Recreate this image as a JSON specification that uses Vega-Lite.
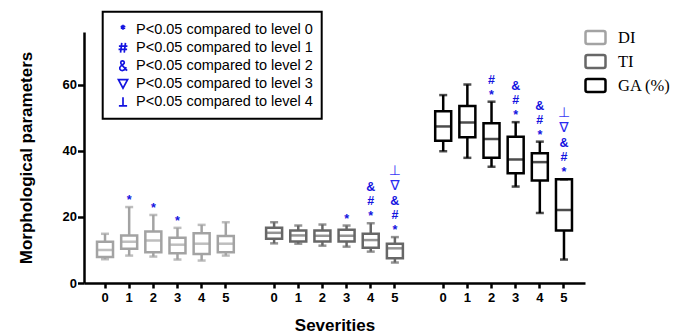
{
  "$schema": "https://vega.github.io/schema/vega-lite/v6.json",
  "width": 501,
  "height": 251,
  "autosize": "none",
  "padding": {"left": 84, "top": 32, "right": 101, "bottom": 53},
  "background": "white",
  "config": {"view": {"stroke": null}, "font": "Liberation Sans", "legend": {"strokeWidth": 2}},
  "data": {
    "values": [
      {"param": "DI", "key": "DI 0", "min": 7.2, "q1": 7.9, "med": 10.0, "q3": 12.5, "max": 14.9, "vs0": "", "vs1": "", "vs2": "", "vs3": "", "vs4": ""},
      {"param": "DI", "key": "DI 1", "min": 8.3, "q1": 10.4, "med": 12.5, "q3": 14.4, "max": 23.0, "vs0": "*", "vs1": "", "vs2": "", "vs3": "", "vs4": ""},
      {"param": "DI", "key": "DI 2", "min": 8.0, "q1": 9.3, "med": 12.9, "q3": 15.6, "max": 20.6, "vs0": "*", "vs1": "", "vs2": "", "vs3": "", "vs4": ""},
      {"param": "DI", "key": "DI 3", "min": 7.1, "q1": 9.0, "med": 11.6, "q3": 13.7, "max": 16.7, "vs0": "*", "vs1": "", "vs2": "", "vs3": "", "vs4": ""},
      {"param": "DI", "key": "DI 4", "min": 6.8, "q1": 8.8, "med": 11.9, "q3": 15.1, "max": 17.6, "vs0": "", "vs1": "", "vs2": "", "vs3": "", "vs4": ""},
      {"param": "DI", "key": "DI 5", "min": 8.3, "q1": 9.3, "med": 11.9, "q3": 14.2, "max": 18.4, "vs0": "", "vs1": "", "vs2": "", "vs3": "", "vs4": ""},
      {"param": "TI", "key": "TI 0", "min": 12.0, "q1": 13.4, "med": 15.2, "q3": 16.7, "max": 18.4, "vs0": "", "vs1": "", "vs2": "", "vs3": "", "vs4": ""},
      {"param": "TI", "key": "TI 1", "min": 11.9, "q1": 12.6, "med": 14.4, "q3": 15.9, "max": 17.4, "vs0": "", "vs1": "", "vs2": "", "vs3": "", "vs4": ""},
      {"param": "TI", "key": "TI 2", "min": 11.3, "q1": 12.6, "med": 14.3, "q3": 15.9, "max": 17.7, "vs0": "", "vs1": "", "vs2": "", "vs3": "", "vs4": ""},
      {"param": "TI", "key": "TI 3", "min": 11.0, "q1": 12.6, "med": 14.3, "q3": 16.1, "max": 17.4, "vs0": "*", "vs1": "", "vs2": "", "vs3": "", "vs4": ""},
      {"param": "TI", "key": "TI 4", "min": 9.5, "q1": 10.7, "med": 13.0, "q3": 14.9, "max": 18.1, "vs0": "*", "vs1": "#", "vs2": "&", "vs3": "", "vs4": ""},
      {"param": "TI", "key": "TI 5", "min": 6.2, "q1": 7.5, "med": 10.5, "q3": 11.9, "max": 13.9, "vs0": "*", "vs1": "#", "vs2": "&", "vs3": "∇", "vs4": "⊥"},
      {"param": "GA (%)", "key": "GA 0", "min": 39.9, "q1": 43.1, "med": 47.4, "q3": 52.0, "max": 56.9, "vs0": "", "vs1": "", "vs2": "", "vs3": "", "vs4": ""},
      {"param": "GA (%)", "key": "GA 1", "min": 37.9, "q1": 44.1, "med": 48.6, "q3": 53.6, "max": 60.1, "vs0": "", "vs1": "", "vs2": "", "vs3": "", "vs4": ""},
      {"param": "GA (%)", "key": "GA 2", "min": 35.2, "q1": 37.9, "med": 43.6, "q3": 48.4, "max": 54.9, "vs0": "*", "vs1": "#", "vs2": "", "vs3": "", "vs4": ""},
      {"param": "GA (%)", "key": "GA 3", "min": 29.2, "q1": 33.2, "med": 37.4, "q3": 44.3, "max": 48.7, "vs0": "*", "vs1": "#", "vs2": "&", "vs3": "", "vs4": ""},
      {"param": "GA (%)", "key": "GA 4", "min": 21.2, "q1": 31.0, "med": 36.6, "q3": 39.3, "max": 42.8, "vs0": "*", "vs1": "#", "vs2": "&", "vs3": "", "vs4": ""},
      {"param": "GA (%)", "key": "GA 5", "min": 7.1, "q1": 15.9, "med": 22.1, "q3": 31.4, "max": 31.4, "vs0": "*", "vs1": "#", "vs2": "&", "vs3": "∇", "vs4": "⊥"}
    ]
  },
  "layer": [
    {
      "mark": {"type": "bar", "filled": false, "strokeWidth": 2.5, "size": 16},
      "encoding": {
        "x": {
          "field": "key", "type": "nominal", "title": "Severities",
          "scale": {"domain": ["DI 0","DI 1","DI 2","DI 3","DI 4","DI 5","gap1","TI 0","TI 1","TI 2","TI 3","TI 4","TI 5","gap2","GA 0","GA 1","GA 2","GA 3","GA 4","GA 5"], "paddingInner": 0, "paddingOuter": 0.37},
          "axis": {
            "values": ["DI 0","DI 1","DI 2","DI 3","DI 4","DI 5","TI 0","TI 1","TI 2","TI 3","TI 4","TI 5","GA 0","GA 1","GA 2","GA 3","GA 4","GA 5"],
            "labelExpr": "substring(datum.value, 3)",
            "labelAngle": 0, "grid": false,
            "domainColor": "black", "domainWidth": 2.5,
            "tickColor": "black", "tickWidth": 2.5, "tickSize": 5,
            "labelFont": "Liberation Sans", "labelFontWeight": "bold", "labelFontSize": 13, "labelColor": "black", "labelPadding": 3,
            "titleFont": "Liberation Sans", "titleFontWeight": "bold", "titleFontSize": 17, "titleColor": "black", "titlePadding": 13
          }
        },
        "y": {
          "field": "q1", "type": "quantitative", "title": "Morphological parameters",
          "scale": {"domain": [0, 76], "nice": false, "zero": true},
          "axis": {
            "values": [0, 20, 40, 60], "grid": false,
            "domainColor": "black", "domainWidth": 2.5,
            "tickColor": "black", "tickWidth": 2.5, "tickSize": 6.5,
            "labelFont": "Liberation Sans", "labelFontWeight": "bold", "labelFontSize": 13, "labelColor": "black", "labelPadding": 1,
            "titleFont": "Liberation Sans", "titleFontWeight": "bold", "titleFontSize": 17, "titleColor": "black", "titlePadding": 27
          }
        },
        "y2": {"field": "q3"},
        "color": {
          "field": "param", "type": "nominal", "title": null,
          "scale": {"domain": ["DI", "TI", "GA (%)"], "range": ["#a3a3a3", "#676767", "#000000"]},
          "legend": {
            "title": null, "orient": "none", "legendX": 500, "legendY": -6, "padding": 0,
            "symbolType": "M-0.8,-0.65H0.8Q1,-0.65 1,-0.45V0.45Q1,0.65 0.8,0.65H-0.8Q-1,0.65 -1,0.45V-0.45Q-1,-0.65 -0.8,-0.65Z",
            "symbolSize": 400, "symbolStrokeWidth": 2.5, "symbolFillColor": "white", "symbolOpacity": 1,
            "labelFont": "Liberation Serif", "labelFontSize": 16.5, "labelColor": "black", "labelOffset": 11, "rowPadding": 1
          }
        }
      }
    },
    {
      "mark": {"type": "rule", "strokeWidth": 2.5},
      "encoding": {
        "x": {"field": "key", "type": "nominal", "title": "Severities"},
        "y": {"field": "q3", "type": "quantitative", "title": "Morphological parameters"},
        "y2": {"field": "max"},
        "color": {"field": "param", "type": "nominal", "title": null}
      }
    },
    {
      "mark": {"type": "rule", "strokeWidth": 2.5},
      "encoding": {
        "x": {"field": "key", "type": "nominal", "title": "Severities"},
        "y": {"field": "min", "type": "quantitative", "title": "Morphological parameters"},
        "y2": {"field": "q1"},
        "color": {"field": "param", "type": "nominal", "title": null}
      }
    },
    {
      "mark": {"type": "tick", "filled": false, "thickness": 0.5, "strokeWidth": 2, "size": 15},
      "encoding": {
        "x": {"field": "key", "type": "nominal", "title": "Severities"},
        "y": {"field": "med", "type": "quantitative", "title": "Morphological parameters"},
        "color": {"field": "param", "type": "nominal", "title": null}
      }
    },
    {
      "mark": {"type": "tick", "filled": false, "thickness": 0.5, "strokeWidth": 2, "size": 6},
      "encoding": {
        "x": {"field": "key", "type": "nominal", "title": "Severities"},
        "y": {"field": "max", "type": "quantitative", "title": "Morphological parameters"},
        "color": {"field": "param", "type": "nominal", "title": null}
      }
    },
    {
      "mark": {"type": "tick", "filled": false, "thickness": 0.5, "strokeWidth": 2, "size": 6},
      "encoding": {
        "x": {"field": "key", "type": "nominal", "title": "Severities"},
        "y": {"field": "min", "type": "quantitative", "title": "Morphological parameters"},
        "color": {"field": "param", "type": "nominal", "title": null}
      }
    },
    {
      "mark": {"type": "text", "baseline": "bottom", "align": "center", "fontSize": 12.5, "fontWeight": "bold", "font": "Liberation Sans", "color": "#1414e0", "dy": 0},
      "encoding": {
        "x": {"field": "key", "type": "nominal", "title": "Severities"},
        "y": {"field": "max", "type": "quantitative", "title": "Morphological parameters"},
        "text": {"field": "vs0"}
      }
    },
    {
      "mark": {"type": "text", "baseline": "bottom", "align": "center", "fontSize": 12.5, "fontWeight": "bold", "font": "Liberation Sans", "color": "#1414e0", "dy": -15},
      "encoding": {
        "x": {"field": "key", "type": "nominal", "title": "Severities"},
        "y": {"field": "max", "type": "quantitative", "title": "Morphological parameters"},
        "text": {"field": "vs1"}
      }
    },
    {
      "mark": {"type": "text", "baseline": "bottom", "align": "center", "fontSize": 12.5, "fontWeight": "bold", "font": "Liberation Sans", "color": "#1414e0", "dy": -29},
      "encoding": {
        "x": {"field": "key", "type": "nominal", "title": "Severities"},
        "y": {"field": "max", "type": "quantitative", "title": "Morphological parameters"},
        "text": {"field": "vs2"}
      }
    },
    {
      "mark": {"type": "text", "baseline": "bottom", "align": "center", "fontSize": 14, "fontWeight": "normal", "font": "DejaVu Sans", "color": "#2a2af0", "dy": -44},
      "encoding": {
        "x": {"field": "key", "type": "nominal", "title": "Severities"},
        "y": {"field": "max", "type": "quantitative", "title": "Morphological parameters"},
        "text": {"field": "vs3"}
      }
    },
    {
      "mark": {"type": "text", "baseline": "bottom", "align": "center", "fontSize": 14, "fontWeight": "normal", "font": "DejaVu Sans", "color": "#3a3af5", "dy": -59},
      "encoding": {
        "x": {"field": "key", "type": "nominal", "title": "Severities"},
        "y": {"field": "max", "type": "quantitative", "title": "Morphological parameters"},
        "text": {"field": "vs4"}
      }
    },
    {
      "data": {
        "values": [
          {"lab": "P<0.05 compared to level 0"},
          {"lab": "P<0.05 compared to level 1"},
          {"lab": "P<0.05 compared to level 2"},
          {"lab": "P<0.05 compared to level 3"},
          {"lab": "P<0.05 compared to level 4"}
        ]
      },
      "mark": {"type": "point", "opacity": 0},
      "encoding": {
        "shape": {
          "field": "lab", "type": "nominal", "title": null,
          "scale": {
            "domain": ["P<0.05 compared to level 0", "P<0.05 compared to level 1", "P<0.05 compared to level 2", "P<0.05 compared to level 3", "P<0.05 compared to level 4"],
            "range": [
              "M-0.59,-0.59M0.59,0.59M0,-0.59L0,0M-0.27,-0.44L0.27,-0.15M-0.27,-0.15L0.27,-0.44",
              "M-0.59,-0.59M0.59,0.59M-0.15,-0.59L-0.3,0.59M0.3,-0.59L0.15,0.59M-0.5,-0.2L0.54,-0.2M-0.54,0.2L0.5,0.2",
              "M-0.59,-0.59M0.59,0.59M0.5,0.59L-0.12,-0.06C-0.35,-0.27 -0.32,-0.59 -0.06,-0.59C0.18,-0.59 0.24,-0.32 0.03,-0.18L-0.24,0.03C-0.54,0.27 -0.39,0.59 -0.09,0.59C0.12,0.59 0.27,0.44 0.39,0.18",
              "M-0.59,-0.59M0.59,0.59M-0.56,-0.5L0.56,-0.5L0,0.54Z",
              "M-0.59,-0.59M0.59,0.59M0,-0.54L0,0.5M-0.5,0.5L0.5,0.5"
            ]
          },
          "legend": {
            "title": null, "orient": "none", "legendX": 18.7, "legendY": -20.3,
            "padding": 8.5, "strokeColor": "black", "symbolOffset": 2.3,
            "symbolSize": 270, "symbolStrokeColor": "#1414e0", "symbolFillColor": "transparent", "symbolStrokeWidth": 1.7, "symbolOpacity": 1,
            "labelFont": "Liberation Sans", "labelFontSize": 14.5, "labelColor": "black", "labelOffset": 3.5, "labelLimit": 300, "rowPadding": 0
          }
        }
      }
    }
  ]
}
